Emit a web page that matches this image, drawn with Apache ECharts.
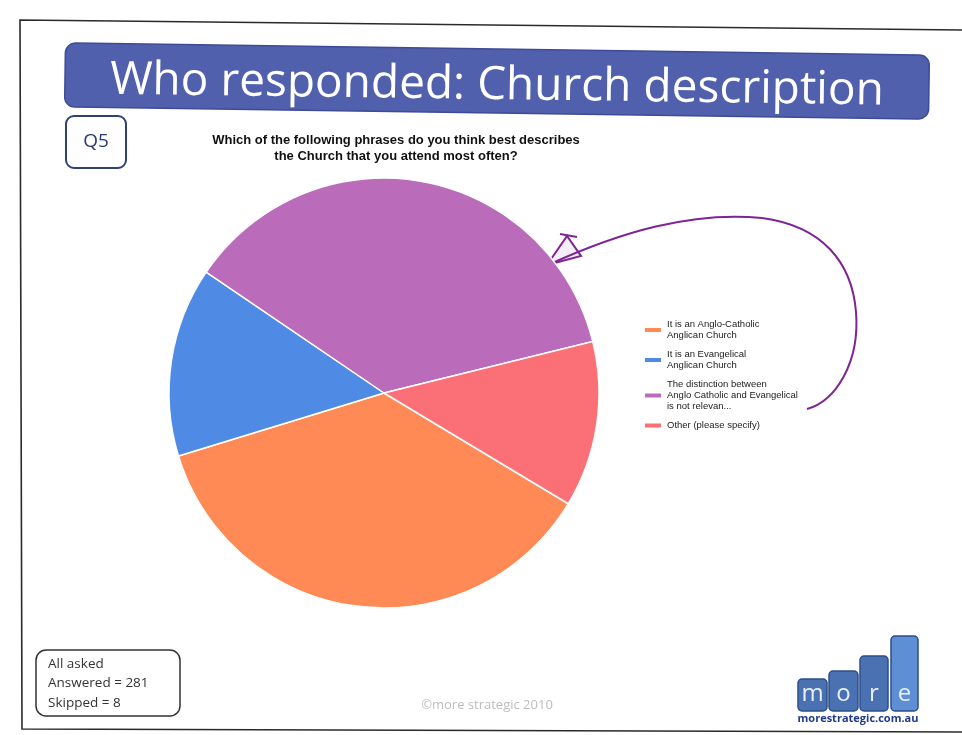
<!DOCTYPE html>
<html>
<head>
<meta charset="utf-8">
<script src="https://cdn.jsdelivr.net/npm/echarts@6/dist/echarts.min.js"></script>
<style>
  html, body { margin: 0; padding: 0; background: #ffffff; }
  #chart { width: 962px; height: 735px; }
</style>
</head>
<body>
<div id="chart"></div>
<script>
// Survey question Q5: how respondents describe the church they attend
const categories = [
  'It is an Anglo-Catholic\nAnglican Church',
  'It is an Evangelical\nAnglican Church',
  'The distinction between\nAnglo Catholic and Evangelical\nis not relevan...',
  'Other (please specify)'
];
const responses = [103, 40, 103, 35];
const sliceColors = ['#FF8A56', '#4F8BE4', '#BA6BBA', '#FB6F76'];

const slideTitle = 'Who responded: Church description';
const questionTag = 'Q5';
const questionText = 'Which of the following phrases do you think best describes\nthe Church that you attend most often?';
const sampleNotes = ['All asked', 'Answered = 281', 'Skipped = 8'];
const footerText = '\u00A9more strategic 2010';
const logoLetters = ['m', 'o', 'r', 'e'];
const logoUrl = 'morestrategic.com.au';

const chart = echarts.init(document.getElementById('chart'), null, { renderer: 'canvas' });

const pieData = categories.map((name, i) => ({
  name: name,
  value: responses[i],
  itemStyle: { color: sliceColors[i] }
}));

// logo bars: increasing heights, common baseline
const logoBoxes = [
  { x: 798, y: 679, w: 29, h: 32 },
  { x: 829, y: 671, w: 29, h: 40 },
  { x: 860, y: 656, w: 28, h: 55 },
  { x: 891, y: 636, w: 27, h: 75 }
];

const penStyle = { fill: null, stroke: '#7E2495', lineWidth: 2 };

const graphics = [
  // page edge
  {
    type: 'polyline', silent: true,
    shape: { points: [[962, 30], [20, 20], [22, 729], [962, 732]] },
    style: { fill: null, stroke: '#2a2a2a', lineWidth: 1.6 }
  },
  // title banner
  {
    type: 'group', x: 497, y: 81, rotation: -0.014, silent: true,
    children: [
      {
        type: 'rect',
        shape: { x: -432, y: -32, width: 864, height: 64, r: 10 },
        style: { fill: '#5160AD', stroke: '#3E4B95', lineWidth: 1.5 }
      },
      {
        type: 'text', x: 0, y: 5,
        style: {
          text: slideTitle, fill: '#ffffff',
          font: '46px "Open Sans", sans-serif',
          align: 'center', verticalAlign: 'middle'
        }
      }
    ]
  },
  // question tag
  {
    type: 'rect', silent: true,
    shape: { x: 66, y: 116, width: 60, height: 52, r: 8 },
    style: { fill: '#ffffff', stroke: '#2E4278', lineWidth: 2 }
  },
  {
    type: 'text', silent: true, x: 96, y: 142,
    style: { text: questionTag, fill: '#2A3A70', font: '19px "Open Sans", sans-serif', align: 'center', verticalAlign: 'middle' }
  },
  // hand-drawn annotation arrow
  {
    type: 'bezierCurve', silent: true,
    shape: { x1: 807, y1: 409, cpx1: 836, cpy1: 401, cpx2: 860, cpy2: 362, x2: 856, y2: 312 },
    style: penStyle
  },
  {
    type: 'bezierCurve', silent: true,
    shape: { x1: 856, y1: 312, cpx1: 852, cpy1: 262, cpx2: 822, cpy2: 226, x2: 762, y2: 218 },
    style: penStyle
  },
  {
    type: 'bezierCurve', silent: true,
    shape: { x1: 762, y1: 218, cpx1: 692, cpy1: 211, cpx2: 620, cpy2: 232, x2: 548, y2: 265 },
    style: penStyle
  },
  {
    type: 'polygon', silent: true,
    shape: { points: [[547, 265], [567, 236], [581, 256]] },
    style: { fill: 'rgba(126,36,149,0.08)', stroke: '#7E2495', lineWidth: 2 }
  },
  {
    type: 'line', silent: true,
    shape: { x1: 560, y1: 234, x2: 577, y2: 237 },
    style: { stroke: '#7E2495', lineWidth: 2 }
  },
  // sample box
  {
    type: 'rect', silent: true,
    shape: { x: 36, y: 650, width: 144, height: 66, r: 10 },
    style: { fill: '#ffffff', stroke: '#333333', lineWidth: 1.5 }
  },
  {
    type: 'text', silent: true, x: 48, y: 654,
    style: { text: sampleNotes.join('\n'), fill: '#333333', font: '13.5px "Open Sans", sans-serif', lineHeight: 19.5 }
  },
  // footer
  {
    type: 'text', silent: true, x: 487, y: 705,
    style: { text: footerText, fill: '#BDBDBD', font: '13px "Open Sans", sans-serif', align: 'center', verticalAlign: 'middle' }
  },
  // logo url
  {
    type: 'text', silent: true, x: 858, y: 719,
    style: { text: logoUrl, fill: '#1F3A8C', font: 'bold 11px "Open Sans", sans-serif', align: 'center', verticalAlign: 'middle' }
  }
];

logoBoxes.forEach((b, i) => {
  graphics.push({
    type: 'rect', silent: true,
    shape: { x: b.x, y: b.y, width: b.w, height: b.h, r: 4 },
    style: { fill: i === 3 ? '#5E8FD4' : '#4A72B3', stroke: '#2D4D8A', lineWidth: 1.5 }
  });
  graphics.push({
    type: 'text', silent: true, x: b.x + b.w / 2, y: 694,
    style: { text: logoLetters[i], fill: '#E9EFF9', font: '24px "Open Sans", sans-serif', align: 'center', verticalAlign: 'middle' }
  });
});

chart.setOption({
  backgroundColor: '#ffffff',
  animation: false,
  title: {
    text: questionText,
    left: 391, top: 127, textAlign: 'center',
    textStyle: { fontSize: 13, fontWeight: 'bold', color: '#111111', fontFamily: '"Liberation Sans", Arial, sans-serif', lineHeight: 16, align: 'center' }
  },
  legend: {
    orient: 'vertical',
    left: 638, top: 314,
    itemWidth: 18, itemHeight: 6, itemGap: 8,
    icon: 'rect',
    selectedMode: false,
    data: categories,
    textStyle: { fontSize: 9.5, lineHeight: 11, color: '#222222', fontFamily: '"Liberation Sans", Arial, sans-serif' }
  },
  series: [{
    type: 'pie',
    center: [384, 393],
    radius: 215,
    startAngle: 329,
    clockwise: true,
    label: { show: false },
    labelLine: { show: false },
    emphasis: { disabled: true },
    itemStyle: { borderColor: '#ffffff', borderWidth: 1.5 },
    data: pieData
  }],
  graphic: graphics
});
</script>
</body>
</html>
